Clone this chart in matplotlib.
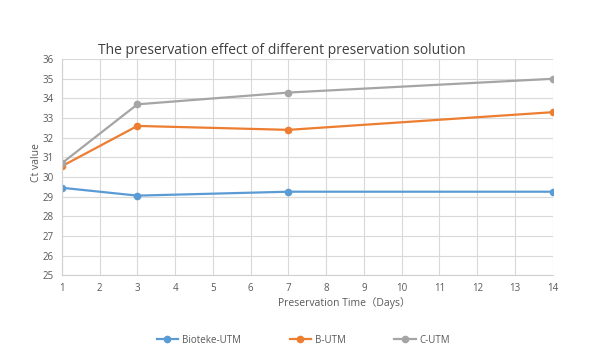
import matplotlib.pyplot as plt

plt.rcParams['font.family'] = ['Open Sans', 'Noto Sans CJK SC', 'DejaVu Sans']

days = [1, 3, 7, 14]
bioteke = [29.45, 29.05, 29.25, 29.25]
b_utm = [30.55, 32.6, 32.4, 33.3]
c_utm = [30.7, 33.7, 34.3, 35.0]

fig = plt.figure(figsize=(5.95, 3.63), dpi=100)
ax = fig.add_axes([0.104, 0.242, 0.825, 0.595])

ax.plot(days, bioteke, c='#5b9bd5', marker='o', ms=4.5, lw=1.6, label='Bioteke-UTM')
ax.plot(days, b_utm, c='#ed7d31', marker='o', ms=4.5, lw=1.6, label='B-UTM')
ax.plot(days, c_utm, c='#a5a5a5', marker='o', ms=4.5, lw=1.6, label='C-UTM')

ax.set_xlim(1, 14)
ax.set_ylim(25, 36)
ax.set_xticks(range(1, 15))
ax.set_yticks(range(25, 37))
ax.grid(color='#d9d9d9', lw=0.8)
ax.set_axisbelow(True)
for s in ['top', 'right']:
    ax.spines[s].set_visible(False)
for s in ['left', 'bottom']:
    ax.spines[s].set_color('#d0d0d0')
ax.tick_params(length=0, labelsize=7, colors='#595959', pad=6)

ax.set_title('The preservation effect of different preservation solution',
             fontsize=10, color='#404040', pad=4, x=0.448)
ax.set_xlabel('Preservation Time（Days）', fontsize=7.5, color='#595959')
ax.xaxis.set_label_coords(0.575, -0.1)
ax.set_ylabel('Ct value', fontsize=7.5, color='#595959')
ax.yaxis.set_label_coords(-0.04, 0.52)

fig.legend(loc='center', bbox_to_anchor=(0.51, 0.063), ncol=3, frameon=False,
           fontsize=7, labelcolor='#595959', columnspacing=5, handlelength=2.2,
           handletextpad=0.4)

fig.savefig('out.png')
